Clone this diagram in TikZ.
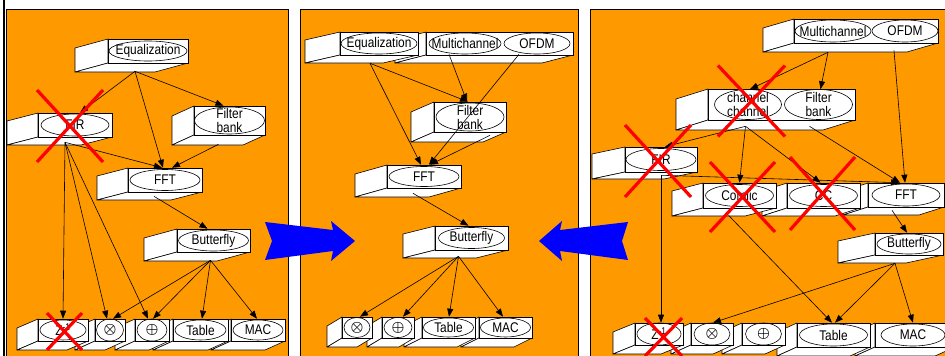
\documentclass[tikz,border=0pt]{standalone}
\usepackage{fontspec}
\setmainfont{Liberation Sans}[FakeStretch=0.85]
\usetikzlibrary{arrows.meta,shapes.geometric,calc}

\definecolor{panelorange}{RGB}{255,153,0}
\definecolor{arrowblue}{RGB}{0,0,255}
\definecolor{crossred}{RGB}{255,0,0}

\tikzset{
  panel/.style={fill=panelorange, draw=black, line width=0.6pt},
  face/.style={fill=white, draw=black, line width=0.6pt, line join=round},
  front/.style={rectangle, fill=white, draw=black, line width=0.6pt, inner sep=0pt},
  oval/.style={ellipse, draw=black, line width=0.6pt, inner sep=0pt},
  edge/.style={-{Triangle[length=8pt,width=6pt]}, line width=0.6pt},
  redx/.style={draw=crossred, line width=3.2pt},
  bigarrow/.style={fill=arrowblue},
}

% extruded block: name, x1, y1, x2, y2 of the front face, depth vector dx, dy
\newcommand\tdbox[7]{%
  \filldraw[face] (#2,#3) -- ++(#6,#7) -- ++(0,{#5-#3}) -- (#2,#5) -- cycle;
  \filldraw[face] (#2,#5) -- ++(#6,#7) -- ++({#4-#2},0) -- (#4,#5) -- cycle;
  \node[front, minimum width={#4-#2}, minimum height={#5-#3}] (#1)
    at ({(#2+#4)/2},{(#3+#5)/2}) {};
}
% oval label: name, x, y, width, height, text
\newcommand\ovl[6]{%
  \node[oval, minimum width=#4, minimum height=#5,
        label={[align=center]center:#6}] (#1) at (#2,#3) {};
}
% red cross: centre node, offset x, offset y, half width, half height
\newcommand\xout[5]{%
  \draw[redx] ($(#1)+(#2-#4,#3-#5)$) -- ($(#1)+(#2+#4,#3+#5)$)
              ($(#1)+(#2+#4,#3-#5)$) -- ($(#1)+(#2-#4,#3+#5)$);
}
\newcommand\opmul{{\boldmath$\otimes$}}
\newcommand\opadd{{\boldmath$\oplus$}}
\newcommand\zinv{Z\textsuperscript{-1}}

\begin{document}
\begin{tikzpicture}[x=1pt, y=-1pt, font=\fontsize{14}{14}\selectfont]
\useasboundingbox (0,0) rectangle (945,356);
\clip (0,0) rectangle (945,356);
\fill[white] (0,0) rectangle (945,356);

% panels
\draw[panel] (6,9) rectangle (288,362);
\draw[panel] (300,9) rectangle (578,362);
\draw[panel] (590,9) rectangle (950,362);
\draw[line width=2pt] (4.3,0) -- (4.3,356);

% ---------- panel 1 ----------
\tdbox{p1eq}{108}{39}{188}{63}{-33}{9}
\ovl{p1eqE}{148}{51}{78}{20}{Equalization}
\tdbox{p1fir}{38}{113}{112}{137}{-31}{8}
\ovl{p1firE}{75}{125}{68}{22}{FIR}
\tdbox{p1fb}{194}{106}{265}{135}{-22}{10}
\ovl{p1fbE}{229.5}{120.5}{70}{27}{Filter\\bank}
\tdbox{p1fft}{128}{168}{202}{192}{-31}{8}
\ovl{p1fftE}{165}{180}{70}{21}{FFT}
\tdbox{p1bf}{177}{229}{250}{252}{-33}{9}
\ovl{p1bfE}{213.5}{240.5}{70}{21}{Butterfly}
\tdbox{p1mac}{231}{319}{285}{341}{-20}{9}
\ovl{p1macE}{258}{330}{50}{20}{MAC}
\tdbox{p1tab}{173}{319}{228}{341}{-20}{9}
\ovl{p1tabE}{200.5}{330}{51}{20}{Table}
\tdbox{p1add}{135}{319}{169}{341}{-20}{9}
\ovl{p1addE}{152}{330}{30}{22}{\opadd}
\tdbox{p1mul}{95}{319}{125}{341}{-20}{9}
\ovl{p1mulE}{110}{330}{27}{22}{\opmul}
\tdbox{p1z}{38}{319}{88}{341}{-21}{9}
\ovl{p1zE}{63}{330}{46}{20}{\zinv}

% ---------- panel 2 ----------
\tdbox{p2mo}{426}{32}{573}{55}{-31}{8}
\ovl{p2mc}{465}{43.5}{72}{21}{Multichannel}
\ovl{p2of}{537}{43.5}{66}{21}{OFDM}
\tdbox{p2eq}{340}{32}{418}{55}{-35}{8}
\ovl{p2eqE}{379}{43.5}{76}{21}{Equalization}
\tdbox{p2fb}{434}{102}{506}{132}{-23}{10}
\ovl{p2fbE}{470}{117}{68}{28}{Filter\\bank}
\tdbox{p2fft}{387}{165}{461}{188}{-32}{9}
\ovl{p2fftE}{424}{176.5}{70}{20}{FFT}
\tdbox{p2bf}{435}{226}{508}{250}{-32}{8}
\ovl{p2bfE}{471.5}{238}{66}{21}{Butterfly}
\tdbox{p2mac}{479}{317}{532}{338}{-18}{9}
\ovl{p2macE}{505.5}{327.5}{50}{19}{MAC}
\tdbox{p2tab}{422}{317}{475}{338}{-18}{9}
\ovl{p2tabE}{448.5}{327.5}{50}{19}{Table}
\tdbox{p2add}{382}{317}{414}{338}{-15}{9}
\ovl{p2addE}{398}{327.5}{28}{20}{\opadd}
\tdbox{p2mul}{342}{317}{372}{338}{-15}{9}
\ovl{p2mulE}{357}{327.5}{26}{20}{\opmul}

% ---------- panel 3 ----------
\tdbox{p3mo}{794}{19}{938}{43}{-31}{9}
\ovl{p3mc}{833}{31}{76}{22}{Multichannel}
\ovl{p3of}{905}{31}{66}{22}{OFDM}
\tdbox{p3cf}{708}{89}{855}{120}{-32}{10}
\ovl{p3ch}{748}{104.5}{67}{30}{channel\\channel}
\ovl{p3fb}{818.5}{104.5}{68}{30}{Filter\\bank}
\tdbox{p3fir}{625}{147}{697}{172}{-33}{7}
\ovl{p3firE}{661}{159.5}{70}{22}{FIR}
\tdbox{p3fft}{868}{183}{944}{207}{-25}{8}
\ovl{p3fftE}{906}{195}{68}{22}{FFT}
\tdbox{p3cc}{787}{183}{860}{208}{-25}{8}
\ovl{p3ccE}{823.5}{195.5}{68}{22}{CC}
\tdbox{p3com}{703}{183}{776}{208}{-31}{8}
\ovl{p3comE}{739.5}{195.5}{68}{22}{Comlic}
\tdbox{p3bf}{875}{233}{943}{255}{-37}{8}
\ovl{p3bfE}{909}{244}{64}{20}{Butterfly}
\tdbox{p3mac}{875}{323}{955}{347}{-20}{9}
\ovl{p3macE}{913}{335}{64}{22}{MAC}
\tdbox{p3tab}{797}{323}{870}{347}{-20}{9}
\ovl{p3tabE}{833.5}{335}{68}{22}{Table}
\tdbox{p3add}{742}{323}{785}{345}{-20}{9}
\ovl{p3addE}{763.5}{334}{36}{22}{\opadd}
\tdbox{p3mul}{691}{323}{733}{345}{-20}{9}
\ovl{p3mulE}{712}{334}{36}{22}{\opmul}
\tdbox{p3z}{635}{323}{683}{345}{-22}{9}
\ovl{p3zE}{659}{334}{44}{22}{\zinv}

% ---------- connectors, panel 1 ----------
\draw[edge] ($(p1eq.south)+(-13,8)$) -- ($(p1fir.north)+(5,0)$);
\draw[edge] ($(p1eq.south)+(-13,8)$) -- ($(p1fft.north)+(-2,0)$);
\draw[edge] ($(p1eq.south)+(-13,8)$) -- ($(p1fb.north)+(-6,0)$);
\draw[edge] ($(p1fb.south)+(-11,9)$) -- ($(p1fft.north)+(7,0)$);
\draw[edge] ($(p1fir.south)+(-10,5)$) -- ($(p1fft.north)+(-3,0)$);
\draw[edge] ($(p1fir.south)+(-10,5)$) -- (p1z.north);
\draw[edge] ($(p1fir.south)+(-10,5)$) -- ($(p1mul.north)+(-3,0)$);
\draw[edge] ($(p1fir.south)+(-10,5)$) -- ($(p1add.north)+(-4,0)$);
\draw[edge] ($(p1fft.south)+(-11,4)$) -- ($(p1bf.north)+(-6,0)$);
\draw[edge] ($(p1bf.south)+(-3,8)$) -- ($(p1mul.north)+(3,0)$);
\draw[edge] ($(p1bf.south)+(-3,8)$) -- ($(p1add.north)+(1,0)$);
\draw[edge] ($(p1bf.south)+(-3,8)$) -- ($(p1tab.north)+(1.5,0)$);
\draw[edge] ($(p1bf.south)+(-3,8)$) -- ($(p1mac.north)+(-1,0)$);

% ---------- connectors, panel 2 ----------
\draw[edge] ($(p2eq.south)+(-9,8)$) -- ($(p2fb.north)+(-2,0)$);
\draw[edge] ($(p2eq.south)+(-9,8)$) -- ($(p2fft.north)+(-3,0)$);
\draw[edge] ($(p2mc.south)+(-16,0)$) -- ($(p2fb.north)+(-3,0)$);
\draw[edge] ($(p2of.south)+(-18,0)$) -- ($(p2fft.north)+(5,0)$);
\draw[edge] ($(p2fb.south)+(20,3)$) -- ($(p2fft.north)+(6,0)$);
\draw[edge] ($(p2fft.south)+(-11,5)$) -- ($(p2bf.north)+(-3,0)$);
\draw[edge] ($(p2bf.south)+(-13,6)$) -- ($(p2mul.north)+(3,0)$);
\draw[edge] ($(p2bf.south)+(-13,6)$) -- ($(p2add.north)+(5,0)$);
\draw[edge] ($(p2bf.south)+(-13,6)$) -- ($(p2tab.north)+(0.5,0)$);
\draw[edge] ($(p2bf.south)+(-13,6)$) -- ($(p2mac.north)+(-2.5,0)$);

% ---------- connectors, panel 3 ----------
\draw[edge] ($(p3mo.south)+(-38,9)$) -- ($(p3ch.north)+(2,0)$);
\draw[edge] ($(p3mo.south)+(-38,9)$) -- ($(p3fb.north)+(2,0)$);
\draw[edge] ($(p3mo.south)+(28,7)$) -- ($(p3fft.north)+(-1,0)$);
\draw[edge] ($(p3cf.south)+(-36,6)$) -- ($(p3fir.north)+(4,0)$);
\draw[edge] ($(p3cf.south)+(-36,6)$) -- (p3com.north);
\draw[edge] ($(p3cf.south)+(-36,6)$) -- ($(p3cc.north)+(-3,0)$);
\draw[edge] ($(p3cf.south)+(28,6)$) -- ($(p3fft.north)+(-6,0)$);
\draw[edge] ($(p3fir.south)+(1,3)$) -- ($(p3fft.north)+(-7,0)$);
\draw[edge] ($(p3fir.south)+(0,3)$) -- ($(p3z.north)+(2,0)$);
\draw[edge] ($(p3com.south)+(-11,7)$) -- ($(p3tab.north)+(-1.5,0)$);
\draw[edge] ($(p3fft.south)+(-14,3)$) -- ($(p3bf.north)+(-2,0)$);
\draw[edge] ($(p3bf.south)+(-14,8)$) -- ($(p3mul.north)+(1,0)$);
\draw[edge] ($(p3bf.south)+(-14,8)$) -- ($(p3tab.north)+(1.5,0)$);
\draw[edge] ($(p3bf.south)+(-14,8)$) -- ($(p3mac.north)+(-2,0)$);

% ---------- block arrows between panels ----------
\fill[bigarrow] (265,222) -- (333,230) -- (331,221) -- (355,241) -- (331,261)
  -- (333,251) -- (265,260) -- (272,241) -- cycle;
\fill[bigarrow] (628,222) -- (560,230) -- (562,221) -- (539,241) -- (562,261)
  -- (560,251) -- (628,260) -- (622,241) -- cycle;

% ---------- crossed-out blocks ----------
\xout{p1fir}{-5}{1}{33}{36}
\xout{p1z}{1.5}{1.5}{17.5}{18.5}
\xout{p3fir}{-3}{1.5}{33}{36}
\xout{p3ch}{3.5}{-3.5}{33.5}{35.5}
\xout{p3com}{3}{1.5}{32.5}{35}
\xout{p3cc}{-1}{-2}{32.5}{36.5}
\xout{p3z}{4.5}{3}{18.5}{19}
\end{tikzpicture}
\end{document}
